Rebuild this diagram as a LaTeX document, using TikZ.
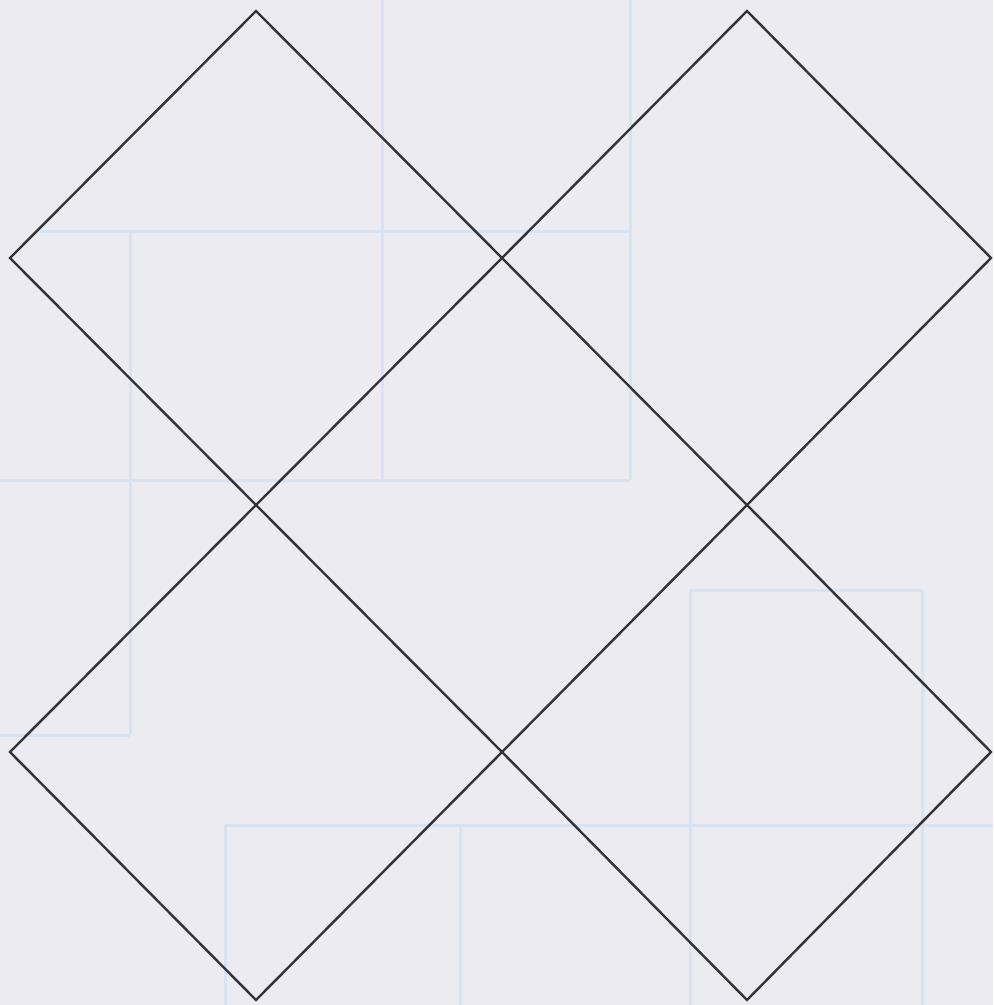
\documentclass[tikz,border=0pt]{standalone}
\usepackage{tikz}

\definecolor{paper}{RGB}{235,235,241}
\definecolor{ruling}{RGB}{216,226,241}
\definecolor{ink}{RGB}{50,50,55}

\tikzset{
  rule/.style={ruling, line width=1.5pt},
  tile/.style={ink, line width=1.2pt, line join=miter}
}

\begin{document}
\begin{tikzpicture}[x=0.5pt, y=-0.5pt]

\fill[paper] (0,0) rectangle (993,1005);
\useasboundingbox (0,0) rectangle (993,1005);

% faint ruling of the paper
\draw[rule] (130,230) -- (130,735);
\draw[rule] (382,0) -- (382,480);
\draw[rule] (630,0) -- (630,480);
\draw[rule] (40,232) -- (630,232);
\draw[rule] (0,480) -- (630,480);
\draw[rule] (0,735) -- (130,735);
\draw[rule] (225,825) -- (993,825);
\draw[rule] (225,825) -- (225,1005);
\draw[rule] (460,825) -- (460,1005);
\draw[rule] (690,590) -- (690,1005);
\draw[rule] (922,590) -- (922,1005);
\draw[rule] (690,590) -- (922,590);

% lattice of corners
\foreach \i/\x in {0/10, 1/256, 2/502, 3/747, 4/991}
  \foreach \j/\y in {0/11, 1/258, 2/505, 3/752, 4/1000}
    \coordinate (V\i\j) at (\x,\y);

% four diamonds
\foreach \a/\b/\c in {0/1/2, 2/3/4}
  \foreach \p/\q/\r in {0/1/2, 2/3/4} {
    \draw[tile] (V\b\p) -- (V\c\q) -- (V\b\r) -- (V\a\q) -- cycle;
  }

\end{tikzpicture}
\end{document}
